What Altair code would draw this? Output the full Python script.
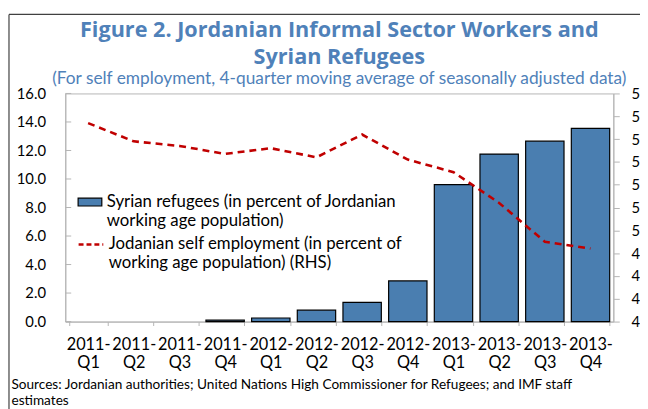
import altair as alt
import pandas as pd

quarters = ["2011-Q1", "2011-Q2", "2011-Q3", "2011-Q4",
            "2012-Q1", "2012-Q2", "2012-Q3", "2012-Q4",
            "2013-Q1", "2013-Q2", "2013-Q3", "2013-Q4"]
refugees = [0.0, 0.0, 0.0, 0.1, 0.25, 0.8, 1.35, 2.85, 9.6, 11.75, 12.65, 13.55]
self_emp = [5.47, 5.39, 5.37, 5.335, 5.36, 5.32, 5.42, 5.31, 5.255, 5.12, 4.95, 4.92]
left_ticks = [0, 2, 4, 6, 8, 10, 12, 14, 16]
right_ticks = [4.6, 4.7, 4.8, 4.9, 5.0, 5.1, 5.2, 5.3, 5.4, 5.5, 5.6]

bar_label = "Syrian refugees (in percent of Jordanian\nworking age population)"
line_label = "Jodanian self employment (in percent of\nworking age population) (RHS)"
title_lines = ["Figure 2. Jordanian Informal Sector Workers and", "Syrian Refugees"]
subtitle = "(For self employment, 4-quarter moving average of seasonally adjusted data)"
sources = ["Sources: Jordanian authorities; United Nations High Commissioner for Refugees; and IMF staff",
           "estimates"]

BLUE = "#4a7eb0"
TITLE_BLUE = "#4f81b9"
RED = "#c00000"
GRAY = "#b5b5b5"
FONT = "Lato"

df = pd.DataFrame({"q": quarters, "ref": refugees, "se": self_emp,
                   "s1": bar_label, "s2": line_label})

x_enc = alt.X("q:N", sort=quarters, scale=alt.Scale(paddingInner=0.16, paddingOuter=0.08),
              axis=alt.Axis(title=sources, titleX=-55, titleY=57, titleAlign="left",
                            titleAnchor="start", titleBaseline="top", titleFontSize=13.8,
                            titleFontWeight="normal", titleColor="#000", titleLineHeight=16,
                            labelExpr="datum.label ? [split(datum.label, '-')[0] + '-', split(datum.label, '-')[1]] : ''",
                            labelAngle=0, labelFontSize=16.5, labelColor="#000",
                            labelPadding=11, labelLineHeight=19, labelBaseline="top",
                            tickBand="extent", tickSize=4, tickColor=GRAY,
                            domainColor=GRAY))

bars = alt.Chart(df).mark_bar(stroke="#000", strokeWidth=1.2).encode(
    x=x_enc,
    y=alt.Y("ref:Q", scale=alt.Scale(domain=[0, 16], nice=False),
            axis=alt.Axis(orient="left", values=left_ticks, format=".1f", title=None,
                          labelFontSize=15, labelColor="#000", labelPadding=20,
                          ticks=False, domainColor=GRAY, grid=False)),
    fill=alt.Fill("s1:N", scale=alt.Scale(domain=[bar_label], range=[BLUE]),
                  legend=alt.Legend(title=None, orient="none", legendX=12, legendY=97,
                                    symbolType="M-1,-0.33H1V0.33H-1Z", symbolSize=576,
                                    symbolStrokeColor="#000", symbolStrokeWidth=1.2,
                                    symbolFillColor=BLUE, symbolOpacity=1,
                                    labelExpr="split(datum.label, '\\n')",
                                    labelFontSize=17, labelColor="#000", labelLimit=0,
                                    labelBaseline="middle", labelOffset=4)),
    strokeOpacity=alt.condition("datum.ref > 0", alt.value(1), alt.value(0)),
)

left_tick_df = pd.DataFrame({"t": left_ticks})
ticks_in = alt.Chart(left_tick_df).mark_rule(color=GRAY).encode(
    y=alt.Y("t:Q", scale=alt.Scale(domain=[0, 16], nice=False), axis=None),
    x=alt.value(0), x2=alt.value(6),
)

line = alt.Chart(df).mark_line(strokeDash=[7, 5], strokeWidth=2.6).encode(
    x=alt.X("q:N", sort=quarters),
    y=alt.Y("se:Q", scale=alt.Scale(domain=[4.6, 5.6], nice=False, zero=False),
            axis=alt.Axis(orient="right", values=right_ticks, format=".1f", title=None,
                          labelFontSize=15, labelColor="#000", labelPadding=12,
                          tickSize=6, tickColor=GRAY, domainColor=GRAY, grid=False)),
    stroke=alt.Stroke("s2:N", scale=alt.Scale(domain=[line_label], range=[RED]),
                      legend=alt.Legend(title=None, orient="none", legendX=12, legendY=139,
                                        symbolType="stroke", symbolSize=625,
                                        symbolStrokeWidth=2.6, symbolDash=[5, 3],
                                        labelExpr="split(datum.label, '\\n')",
                                        labelFontSize=17, labelColor="#000", labelLimit=0,
                                        labelBaseline="middle", labelOffset=4)),
)

frame_df = pd.DataFrame({"k": [0]})
frame_top = alt.Chart(frame_df).mark_rule(color="#404040", strokeWidth=1.2).encode(
    x=alt.value(-57), x2=alt.value(620), y=alt.value(-80))
frame_left = alt.Chart(frame_df).mark_rule(color="#404040", strokeWidth=1.2).encode(
    x=alt.value(-57), y=alt.value(-80), y2=alt.value(340))

chart = alt.layer(bars, ticks_in, line, frame_top, frame_left).resolve_scale(
    y="independent", fill="independent", stroke="independent"
).properties(
    width=555, height=231,
    autosize=alt.AutoSizeParams(type="none"),
    padding={"left": 58, "top": 84, "right": 27, "bottom": 86},
    title=alt.TitleParams(text=title_lines, subtitle=subtitle, anchor="middle", frame="group",
                          fontSize=21.9, font="Open Sans", fontWeight="bold",
                          color=TITLE_BLUE, lineHeight=27, subtitleFont=FONT,
                          subtitleFontSize=17.5, subtitleColor=TITLE_BLUE,
                          subtitlePadding=2, offset=-76),
).configure(font=FONT).configure_view(stroke=GRAY).configure_axis(labelFont=FONT, titleFont=FONT)

chart.save("out.html", embed_options={"renderer": "svg", "actions": False})
